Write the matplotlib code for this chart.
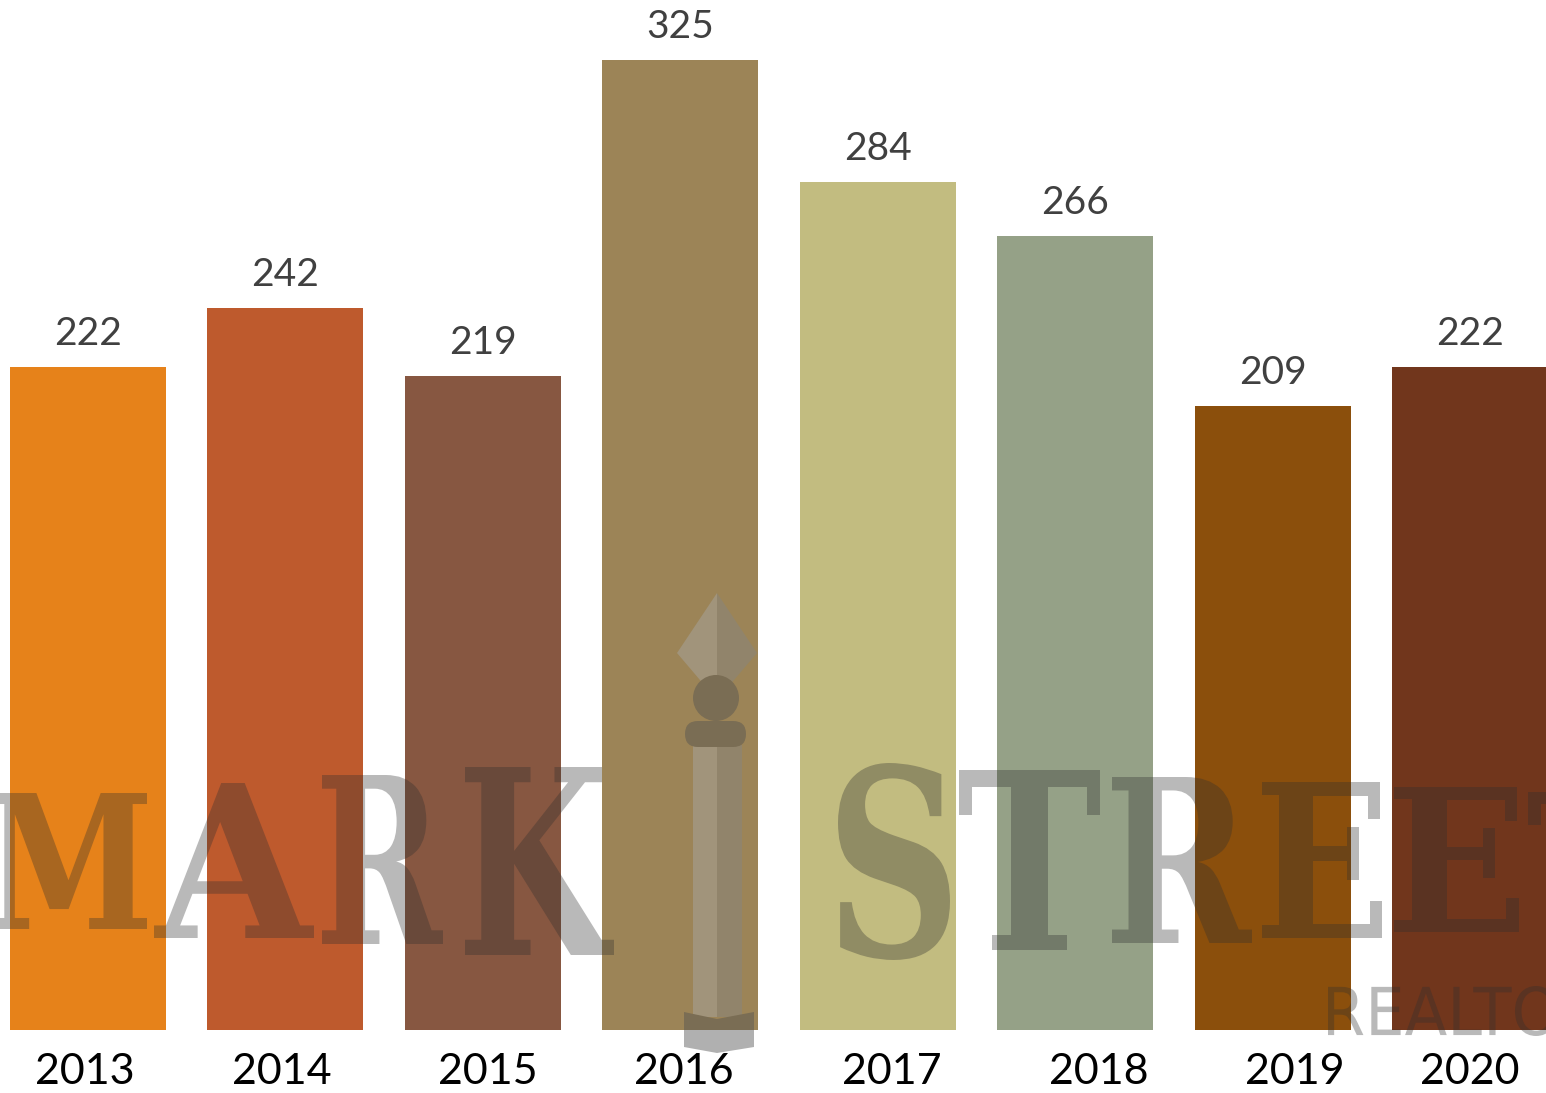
import matplotlib
matplotlib.use("Agg")
import matplotlib.pyplot as plt
import numpy as np
from matplotlib.textpath import TextPath
from matplotlib.font_manager import FontProperties
from matplotlib.patches import PathPatch, Polygon, Circle, FancyBboxPatch, Rectangle
from matplotlib.transforms import Affine2D
from matplotlib.colors import to_rgb

# ---- data ----
years = ["2013", "2014", "2015", "2016", "2017", "2018", "2019", "2020"]
values = [222, 242, 219, 325, 284, 266, 209, 222]
bar_colors = ["#E6821A", "#BE5A2D", "#875741", "#9C8457",
              "#C2BC80", "#95A187", "#8B4F0C", "#71361C"]

# ---- layout ----
W, H = 1546, 1093
fig = plt.figure(figsize=(W / 100, H / 100), dpi=100)
ax = fig.add_axes([0, 0, 1, 1])
ax.axis("off")

spacing_px = 197.43
px_per_unit = 970 / 325
ax.set_xlim(-88 / spacing_px, (W - 88) / spacing_px)
ax.set_ylim(-(H - 1030) / px_per_unit, 1030 / px_per_unit)

x = np.arange(len(years))
bars = ax.bar(x, values, width=0.79, color=bar_colors, zorder=2, linewidth=0)

font = ["Lato", "DejaVu Sans"]
for i, v in enumerate(values):
    ax.annotate(str(v), (x[i], v), xytext=(0, 22 * 0.72), textcoords="offset points",
                ha="center", va="baseline", fontsize=28, color="#404040", family=font,
                zorder=6)

label_shift_px = [-3, -4, 5, 4, 14, 24, 22, 0]
for i, yr in enumerate(years):
    ax.annotate(yr, (x[i], 0), xytext=(label_shift_px[i] * 0.72, -54 * 0.72),
                textcoords="offset points", ha="center", va="baseline",
                fontsize=31, color="#000000", family=font, zorder=6)

# ---- watermark (decoration) ----
pix = Affine2D().scale(1 / W, -1 / H).translate(0, 1) + ax.transAxes


def blend_letters(c):
    c = np.array(to_rgb(c))
    return tuple(np.clip(0.667 * c + 15 / 255, 0, 1))


def make_alpha(gray, a=0.45):
    g = gray / 255

    def f(c):
        c = np.array(to_rgb(c))
        return tuple(np.clip((1 - a) * c + a * g, 0, 1))
    return f


def add_wm(make_patch, blend):
    base = make_patch()
    base.set_facecolor(blend("#FFFFFF"))
    base.set_edgecolor("none")
    base.set_zorder(1)
    ax.add_patch(base)
    for b, col in zip(bars, bar_colors):
        p = make_patch()
        p.set_facecolor(blend(col))
        p.set_edgecolor("none")
        p.set_zorder(3)
        ax.add_patch(p)
        p.set_clip_path(b)


def text_patch_factory(s, box, prop):
    x0, x1, y0, y1 = box
    tp = TextPath((0, 0), s, size=1, prop=prop)
    ext = tp.get_extents()
    tr = (Affine2D().translate(-ext.x0, -ext.y0)
          .scale((x1 - x0) / ext.width, -(y1 - y0) / ext.height)
          .translate(x0, y1))
    path = tr.transform_path(tp)
    return lambda: PathPatch(path, transform=pix)


serif = FontProperties(family="DejaVu Serif", weight="bold")
letters = [
    ("M", (-10, 147, 793, 929)),
    ("A", (154, 314, 783, 938)),
    ("R", (322, 443, 775, 944)),
    ("K", (465, 614, 767, 955)),
    ("S", (838, 950, 763, 960)),
    ("T", (959, 1100, 770, 950)),
    ("R", (1112, 1252, 777, 943)),
    ("E", (1262, 1382, 782, 938)),
    ("E", (1394, 1519, 787, 932)),
    ("T", (1528, 1670, 792, 926)),
]
for s, box in letters:
    add_wm(text_patch_factory(s, box, serif), blend_letters)

sans = FontProperties(family="DejaVu Sans")
add_wm(text_patch_factory("REALTORS", (1328, 1640, 986, 1036), sans), blend_letters)

# pillar icon
dark = make_alpha(0x50)
light = make_alpha(0xA8)
mid = make_alpha(0x84)
add_wm(lambda: Polygon([(717, 593), (677, 653), (717, 700)], closed=True, transform=pix), light)
add_wm(lambda: Polygon([(717, 593), (757, 653), (717, 700)], closed=True, transform=pix), mid)
add_wm(lambda: Rectangle((693, 745), 24, 272, transform=pix), light)
add_wm(lambda: Rectangle((717, 745), 25, 272, transform=pix), mid)
add_wm(lambda: Circle((716, 698), 23, transform=pix), dark)
add_wm(lambda: FancyBboxPatch((685, 721), 61, 26,
                              boxstyle="round,pad=0,rounding_size=13", transform=pix), dark)
add_wm(lambda: Polygon([(684, 1012), (717, 1019), (754, 1012), (754, 1047),
                        (717, 1053), (684, 1047)], closed=True, transform=pix), dark)

fig.savefig("out.png", dpi=100)
